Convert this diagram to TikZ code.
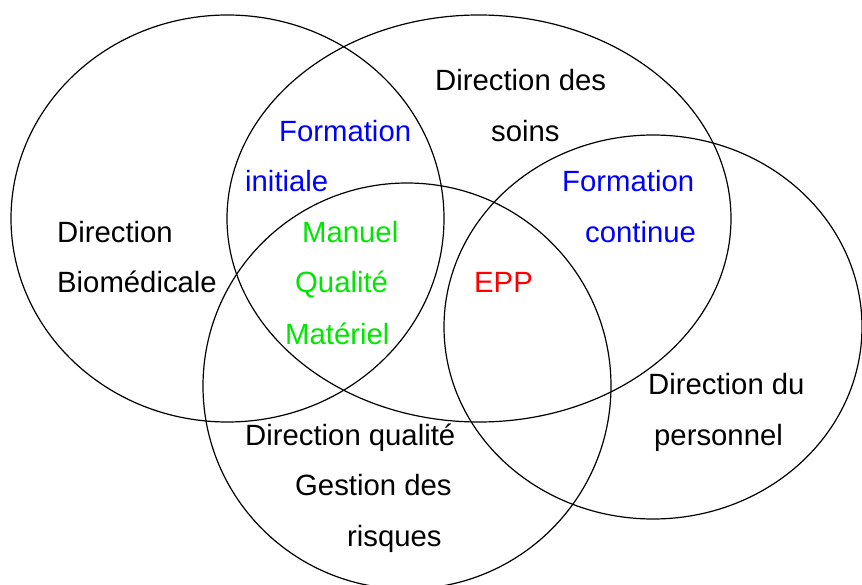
\documentclass[tikz,border=0pt]{standalone}
\usepackage{fontspec}
\setmainfont{Liberation Sans}
\definecolor{fblue}{RGB}{0,0,255}
\definecolor{fgreen}{RGB}{0,230,0}
\definecolor{fred}{RGB}{255,0,0}
\tikzset{
    venn/.style={draw=black, line width=1.2pt},
    lbl/.style={anchor=base west, inner sep=0pt, font=\fontsize{29.3}{35}\selectfont}
}
\begin{document}
\begin{tikzpicture}[x=1pt, y=-1pt]
                \useasboundingbox (0,0) rectangle (862,585);

                \coordinate (bio) at (227.5,218.5);
                \coordinate (soins) at (479,218.5);
                \coordinate (qual) at (407,386);
                \coordinate (pers) at (653,327);

                \draw[venn] (bio) ellipse [x radius=216.5pt, y radius=203.5pt];
                \draw[venn] (soins) ellipse [x radius=252pt, y radius=203.5pt];
                \draw[venn] (qual) ellipse [x radius=204pt, y radius=203pt];
                \draw[venn] (pers) ellipse [x radius=209pt, y radius=192pt];

                \node[lbl] (soins1) at (435,91) {Direction des};
                \node[lbl] (soins2) at (491,142) {soins};
                \node[lbl, text=fblue] (fi1) at (279,142) {Formation};
                \node[lbl, text=fblue] (fi2) at (245,192) {initiale};
                \node[lbl, text=fblue] (fc1) at (562,192) {Formation};
                \node[lbl, text=fblue] (fc2) at (585,243) {continue};
                \node[lbl] (bio1) at (57,243) {Direction};
                \node[lbl] (bio2) at (57,293) {Biomédicale};
                \node[lbl, text=fgreen] (mq1) at (302,243) {Manuel};
                \node[lbl, text=fgreen] (mq2) at (295,293) {Qualité};
                \node[lbl, text=fgreen] (mq3) at (285,344) {Matériel};
                \node[lbl, text=fred] (epp) at (474,293) {EPP};
                \node[lbl] (pers1) at (648,394) {Direction du};
                \node[lbl] (pers2) at (654,445) {personnel};
                \node[lbl] (qual1) at (245,445) {Direction qualité};
                \node[lbl] (qual2) at (295,495) {Gestion des};
                \node[lbl] (qual3) at (347,546) {risques};
            \end{tikzpicture}
\end{document}
